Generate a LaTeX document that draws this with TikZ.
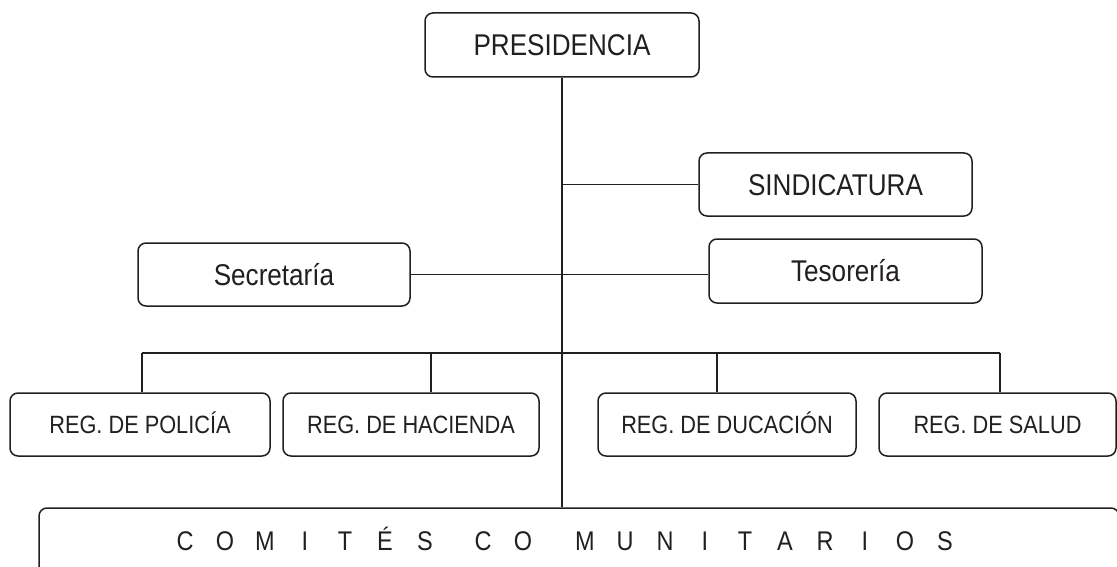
\documentclass[tikz,border=0pt]{standalone}
\usepackage{fontspec}
\setmainfont{Liberation Sans}[FakeStretch=0.87]
\definecolor{ink}{RGB}{35,31,32}
\newcommand{\cletter}[1]{\makebox[40pt]{#1}}
\begin{document}
\begin{tikzpicture}[x=1pt,y=-1pt,
  orgbox/.style={draw=ink, line width=1.5pt, rounded corners=8pt, inner sep=0pt,
    text=ink, font=\fontsize{30}{36}\selectfont, text height=21.5pt, text depth=0pt},
  regbox/.style={orgbox, font=\fontsize{25}{30}\selectfont, text height=17.9pt, minimum height=63pt},
  conn/.style={draw=ink, line width=1.4pt}]
\clip (0,0) rectangle (1117,567);
\fill[white] (0,0) rectangle (1117,567);
\node[orgbox, minimum width=274pt, minimum height=64pt] (pres) at (562,45) {PRESIDENCIA};
\node[orgbox, minimum width=273pt, minimum height=63pt] (sind) at (835.5,184.5) {SINDICATURA};
\node[orgbox, minimum width=272pt, minimum height=63pt] (secr) at (274,274.5) {Secretaría};
\node[orgbox, minimum width=273pt, minimum height=64pt] (teso) at (845.5,271) {Tesorería};
\node[regbox, minimum width=260pt] (pol) at (140,424.5) {REG. DE POLICÍA};
\node[regbox, minimum width=256pt] (hac) at (411,424.5) {REG. DE HACIENDA};
\node[regbox, minimum width=258pt] (duc) at (727,424.5) {REG. DE DUCACIÓN};
\node[regbox, minimum width=237pt] (sal) at (997.5,424.5) {REG. DE SALUD};
\node[orgbox, font=\fontsize{27}{32}\selectfont, text height=19.3pt,
  minimum width=1080pt, minimum height=66pt] (com) at (579,541)
  {\cletter{C}\cletter{O}\cletter{M}\cletter{I}\cletter{T}\cletter{É}\cletter{S}\kern18pt%
   \cletter{C}\cletter{O}\kern22pt\cletter{M}\cletter{U}\cletter{N}\cletter{I}\cletter{T}\cletter{A}\cletter{R}\cletter{I}\cletter{O}\cletter{S}\kern28pt};
\coordinate (d1) at (142,353);
\coordinate (d2) at (431,353);
\coordinate (d3) at (717,353);
\coordinate (d4) at (1000,353);
\draw[conn] (pres.south) -- (pres.south |- com.north);
\draw[conn] (sind.west) -- (sind.west -| pres.south);
\draw[conn] (secr.east) -- (secr.east -| teso.west);
\draw[conn] (d1) -- (d4);
\draw[conn] (d1) -- (d1 |- pol.north);
\draw[conn] (d2) -- (d2 |- hac.north);
\draw[conn] (d3) -- (d3 |- duc.north);
\draw[conn] (d4) -- (d4 |- sal.north);
\end{tikzpicture}
\end{document}
